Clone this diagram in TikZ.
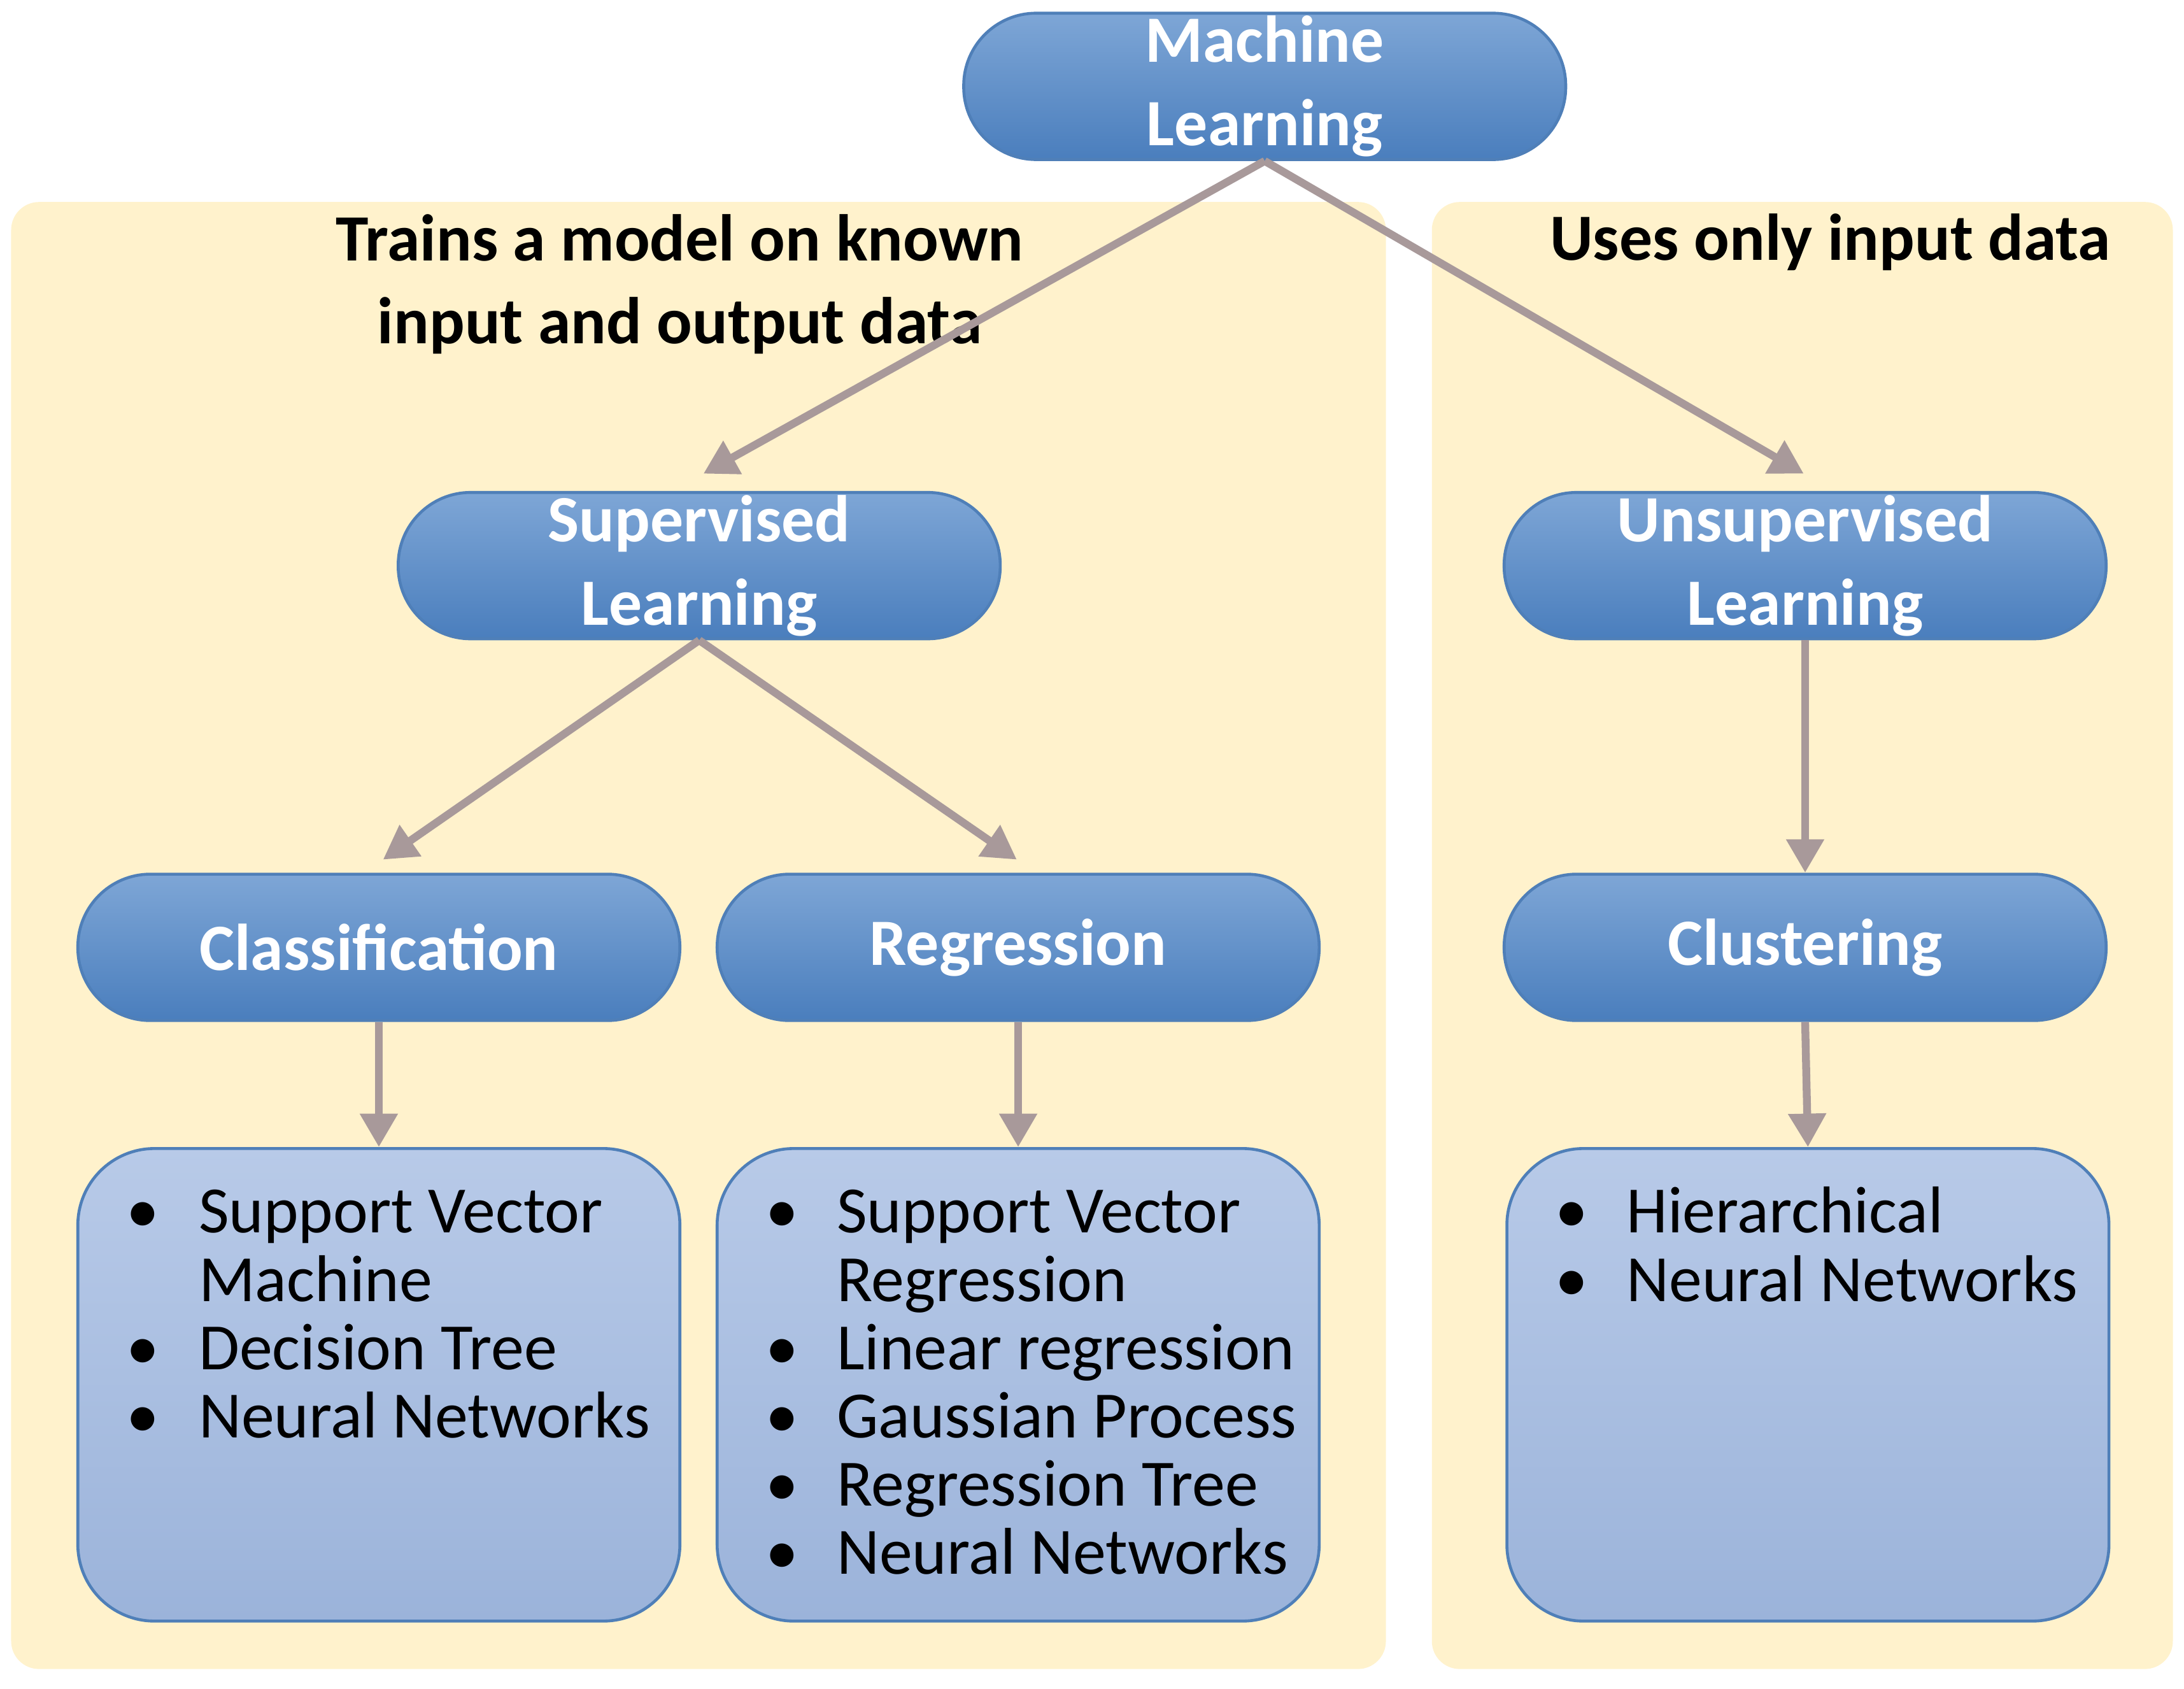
\documentclass[tikz,border=0pt]{standalone}
\usepackage{fontspec}
\setmainfont{Carlito}
\usetikzlibrary{arrows.meta}
\definecolor{panel}{HTML}{FFF2CC}
\definecolor{pilltop}{HTML}{7EA6D6}
\definecolor{pillbot}{HTML}{4A7EBD}
\definecolor{pillline}{HTML}{4F7FB8}
\definecolor{boxtop}{HTML}{B8CAE8}
\definecolor{boxbot}{HTML}{9BB3DA}
\definecolor{arr}{HTML}{A8999A}
\begin{document}
\begin{tikzpicture}[x=0.01cm,y=-0.01cm,
  pill/.style={rounded corners=0.52cm,minimum width=4.32cm,minimum height=1.05cm,
    top color=pilltop,bottom color=pillbot,draw=pillline,line width=0.6pt,
    text=white,font=\fontsize{13.5}{17}\selectfont\bfseries,align=center,inner sep=0pt},
  box/.style={rounded corners=0.55cm,minimum width=4.32cm,minimum height=3.39cm,
    top color=boxtop,bottom color=boxbot,draw=pillline,line width=0.6pt,inner sep=0pt},
  panelst/.style={fill=panel,draw=none,rounded corners=0.2cm},
  item/.style={anchor=base west,inner sep=0pt,font=\fontsize{13.5}{17}\selectfont},
  note/.style={font=\fontsize{13.5}{17}\selectfont\bfseries,align=center},
  conn/.style={draw=arr,line width=1.6pt,-{Triangle[length=0.24cm,width=0.26cm]}}]
\useasboundingbox (0,0) rectangle (1568,1212);
\fill[panelst] (8,145) rectangle (995,1198);
\fill[panelst] (1028,145) rectangle (1560,1198);
\node[note] (n1) at (488,204) {Trains a model on known\\input and output data};
\node[note] (n2) at (1314,174) {Uses only input data};
\node[pill] (ml) at (908,62) {Machine\\Learning};
\node[pill] (sup) at (502,406) {Supervised\\Learning};
\node[pill] (uns) at (1296,406) {Unsupervised\\Learning};
\node[pill] (cla) at (272,680) {Classification};
\node[pill] (reg) at (731,680) {Regression};
\node[pill] (clu) at (1296,680) {Clustering};
\node[box] (b1) at (272,994) {};
\node[box] (b2) at (731,994) {};
\node[box] (b3) at (1298,994) {};
\coordinate (a1) at (505,340);
\coordinate (a2) at (1295,340);
\coordinate (a3) at (275,617);
\coordinate (a4) at (730,617);
\draw[conn] (ml.south) -- (a1);
\draw[conn] (ml.south) -- (a2);
\draw[conn] (sup.south) -- (a3);
\draw[conn] (sup.south) -- (a4);
\draw[conn] (uns.south) -- (clu.north);
\draw[conn] (cla.south) -- (b1.north);
\draw[conn] (reg.south) -- (b2.north);
\draw[conn] (clu.south) -- (b3.north);
% classification list
\node[item] (c1b) at (90,885) {•};
\node[item] (c1) at (142,885) {Support Vector};
\node[item] (c1c) at (142,934) {Machine};
\node[item] (c2b) at (90,983) {•};
\node[item] (c2) at (142,983) {Decision Tree};
\node[item] (c3b) at (90,1032) {•};
\node[item] (c3) at (142,1032) {Neural Networks};
% regression list
\node[item] (r1b) at (549,885) {•};
\node[item] (r1) at (600,885) {Support Vector};
\node[item] (r1c) at (600,934) {Regression};
\node[item] (r2b) at (549,983) {•};
\node[item] (r2) at (600,983) {Linear regression};
\node[item] (r3b) at (549,1032) {•};
\node[item] (r3) at (600,1032) {Gaussian Process};
\node[item] (r4b) at (549,1081) {•};
\node[item] (r4) at (600,1081) {Regression Tree};
\node[item] (r5b) at (549,1130) {•};
\node[item] (r5) at (600,1130) {Neural Networks};
% clustering list
\node[item] (k1b) at (1116,885) {•};
\node[item] (k1) at (1167,885) {Hierarchical};
\node[item] (k2b) at (1116,934) {•};
\node[item] (k2) at (1167,934) {Neural Networks};
\end{tikzpicture}
\end{document}
